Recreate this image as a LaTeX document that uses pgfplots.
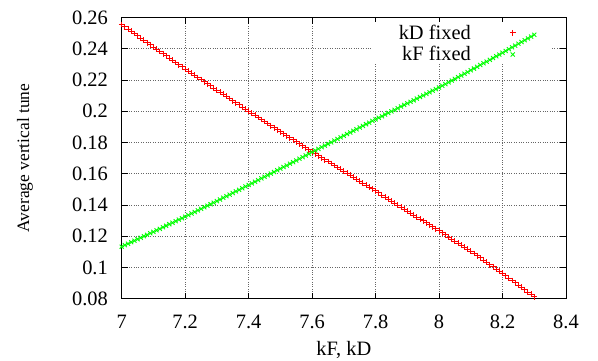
\documentclass[border=0pt]{standalone}
\usepackage{fontspec}
\setmainfont{Liberation Serif}
\usepackage{pgfplots}
\pgfplotsset{compat=1.18}

\newcommand{\tickfont}{\fontsize{20.5}{24}\selectfont}
\newcommand{\ylblfont}{\fontsize{17.5}{21}\selectfont}

\pgfplotsset{
  keymarks/.style={only marks,
    legend image code/.code={%
      \path[draw=none, fill=none] (0bp,-5bp) rectangle (48bp,5bp);
      \draw[mark repeat=2, mark phase=2, ##1] plot coordinates {(0bp,0bp) (40bp,0bp) (48bp,0bp)};}},
}

\begin{document}
\begin{tikzpicture}
\begin{axis}[
  scale only axis,
  width=444.3bp, height=281.2bp,
  xmin=7, xmax=8.4, ymin=0.08, ymax=0.26,
  xtick={7,7.2,7.4,7.6,7.8,8,8.2,8.4},
  ytick={0.08,0.1,0.12,0.14,0.16,0.18,0.2,0.22,0.24,0.26},
  scaled x ticks=false, scaled y ticks=false,
  /pgf/number format/assume math mode=true,
  xticklabel style={/pgf/number format/fixed, font=\tickfont,
    anchor=center, inner sep=0pt, yshift=-23.3bp},
  yticklabel style={/pgf/number format/fixed, /pgf/number format/precision=2,
    font=\tickfont, anchor=east, inner sep=0pt, xshift=-13.7bp},
  grid=major,
  grid style={dotted, black!60, line width=0.6pt},
  tick align=inside,
  major tick length=6bp,
  tick style={black, line width=0.6pt},
  axis line style={black, line width=0.8pt},
  xlabel={kF, kD},
  ylabel={Average vertical tune},
  xlabel style={font=\tickfont, at={(axis description cs:0.5,-0.1824)}, anchor=center},
  ylabel style={font=\ylblfont, at={(axis description cs:-0.2176,0.5)}, anchor=center},
  legend cell align=right,
  legend plot pos=right,
  legend style={draw=none, fill=none, font=\tickfont, inner sep=0pt,
    at={(axis description cs:0.8987,0.982)}, anchor=north east, row sep=2bp},
]
% blank key area: hides the grid, the data stays on top
\fill[white] (rel axis cs:0.5656,0.838) rectangle (rel axis cs:0.9685,0.984);

% tune with kD held fixed, kF scanned
\addplot[keymarks, mark=+, red, mark size=2.9bp, mark options={line width=0.9bp}] coordinates {
(7.00,0.2555) (7.01,0.2541) (7.02,0.2526) (7.03,0.2512) (7.04,0.2497) (7.05,0.2483) (7.06,0.2468) (7.07,0.2454) (7.08,0.2439) (7.09,0.2425)
(7.10,0.2410) (7.11,0.2396) (7.12,0.2382) (7.13,0.2368) (7.14,0.2354) (7.15,0.2340) (7.16,0.2326) (7.17,0.2312) (7.18,0.2298) (7.19,0.2284)
(7.20,0.2270) (7.21,0.2257) (7.22,0.2243) (7.23,0.2230) (7.24,0.2216) (7.25,0.2203) (7.26,0.2189) (7.27,0.2176) (7.28,0.2162) (7.29,0.2149)
(7.30,0.2135) (7.31,0.2122) (7.32,0.2108) (7.33,0.2095) (7.34,0.2081) (7.35,0.2068) (7.36,0.2054) (7.37,0.2041) (7.38,0.2027) (7.39,0.2014)
(7.40,0.2000) (7.41,0.1987) (7.42,0.1974) (7.43,0.1960) (7.44,0.1947) (7.45,0.1934) (7.46,0.1921) (7.47,0.1908) (7.48,0.1894) (7.49,0.1881)
(7.50,0.1868) (7.51,0.1855) (7.52,0.1842) (7.53,0.1830) (7.54,0.1817) (7.55,0.1804) (7.56,0.1791) (7.57,0.1778) (7.58,0.1766) (7.59,0.1753)
(7.60,0.1740) (7.61,0.1728) (7.62,0.1715) (7.63,0.1703) (7.64,0.1690) (7.65,0.1678) (7.66,0.1665) (7.67,0.1653) (7.68,0.1640) (7.69,0.1628)
(7.70,0.1615) (7.71,0.1603) (7.72,0.1590) (7.73,0.1578) (7.74,0.1565) (7.75,0.1553) (7.76,0.1540) (7.77,0.1528) (7.78,0.1515) (7.79,0.1503)
(7.80,0.1490) (7.81,0.1477) (7.82,0.1464) (7.83,0.1451) (7.84,0.1438) (7.85,0.1425) (7.86,0.1412) (7.87,0.1399) (7.88,0.1386) (7.89,0.1373)
(7.90,0.1360) (7.91,0.1348) (7.92,0.1335) (7.93,0.1323) (7.94,0.1310) (7.95,0.1298) (7.96,0.1285) (7.97,0.1273) (7.98,0.1260) (7.99,0.1248)
(8.00,0.1235) (8.01,0.1222) (8.02,0.1209) (8.03,0.1195) (8.04,0.1182) (8.05,0.1169) (8.06,0.1156) (8.07,0.1143) (8.08,0.1129) (8.09,0.1116)
(8.10,0.1103) (8.11,0.1089) (8.12,0.1075) (8.13,0.1061) (8.14,0.1047) (8.15,0.1033) (8.16,0.1018) (8.17,0.1004) (8.18,0.0990) (8.19,0.0976)
(8.20,0.0962) (8.21,0.0947) (8.22,0.0932) (8.23,0.0917) (8.24,0.0902) (8.25,0.0888) (8.26,0.0873) (8.27,0.0858) (8.28,0.0843) (8.29,0.0828)
(8.30,0.0813)
};
\addlegendentry{kD fixed}

% tune with kF held fixed, kD scanned
\addplot[keymarks, mark=x, green, mark size=2.9bp, mark options={line width=0.9bp}] coordinates {
(7.00,0.1133) (7.01,0.1143) (7.02,0.1152) (7.03,0.1162) (7.04,0.1171) (7.05,0.1181) (7.06,0.1190) (7.07,0.1200) (7.08,0.1209) (7.09,0.1219)
(7.10,0.1228) (7.11,0.1238) (7.12,0.1247) (7.13,0.1257) (7.14,0.1267) (7.15,0.1277) (7.16,0.1286) (7.17,0.1296) (7.18,0.1306) (7.19,0.1315)
(7.20,0.1325) (7.21,0.1335) (7.22,0.1345) (7.23,0.1355) (7.24,0.1365) (7.25,0.1375) (7.26,0.1385) (7.27,0.1395) (7.28,0.1405) (7.29,0.1415)
(7.30,0.1425) (7.31,0.1435) (7.32,0.1446) (7.33,0.1456) (7.34,0.1466) (7.35,0.1477) (7.36,0.1487) (7.37,0.1497) (7.38,0.1507) (7.39,0.1518)
(7.40,0.1528) (7.41,0.1538) (7.42,0.1549) (7.43,0.1559) (7.44,0.1570) (7.45,0.1580) (7.46,0.1590) (7.47,0.1601) (7.48,0.1611) (7.49,0.1622)
(7.50,0.1632) (7.51,0.1643) (7.52,0.1653) (7.53,0.1664) (7.54,0.1674) (7.55,0.1685) (7.56,0.1696) (7.57,0.1706) (7.58,0.1717) (7.59,0.1727)
(7.60,0.1738) (7.61,0.1749) (7.62,0.1759) (7.63,0.1770) (7.64,0.1780) (7.65,0.1791) (7.66,0.1801) (7.67,0.1812) (7.68,0.1822) (7.69,0.1833)
(7.70,0.1843) (7.71,0.1854) (7.72,0.1864) (7.73,0.1875) (7.74,0.1885) (7.75,0.1896) (7.76,0.1906) (7.77,0.1917) (7.78,0.1927) (7.79,0.1938)
(7.80,0.1948) (7.81,0.1958) (7.82,0.1968) (7.83,0.1979) (7.84,0.1989) (7.85,0.1999) (7.86,0.2009) (7.87,0.2019) (7.88,0.2030) (7.89,0.2040)
(7.90,0.2050) (7.91,0.2060) (7.92,0.2070) (7.93,0.2081) (7.94,0.2091) (7.95,0.2101) (7.96,0.2111) (7.97,0.2121) (7.98,0.2132) (7.99,0.2142)
(8.00,0.2152) (8.01,0.2163) (8.02,0.2174) (8.03,0.2185) (8.04,0.2196) (8.05,0.2207) (8.06,0.2218) (8.07,0.2229) (8.08,0.2240) (8.09,0.2251)
(8.10,0.2262) (8.11,0.2273) (8.12,0.2284) (8.13,0.2296) (8.14,0.2307) (8.15,0.2318) (8.16,0.2329) (8.17,0.2340) (8.18,0.2352) (8.19,0.2363)
(8.20,0.2374) (8.21,0.2386) (8.22,0.2397) (8.23,0.2409) (8.24,0.2420) (8.25,0.2432) (8.26,0.2443) (8.27,0.2455) (8.28,0.2466) (8.29,0.2478)
(8.30,0.2489)
};
\addlegendentry{kF fixed}
\end{axis}
\pgfresetboundingbox
\path ([shift={(-121.7bp,-62.3bp)}]current axis.south west) rectangle ([shift={(32bp,17.5bp)}]current axis.north east);
\end{tikzpicture}
\end{document}
